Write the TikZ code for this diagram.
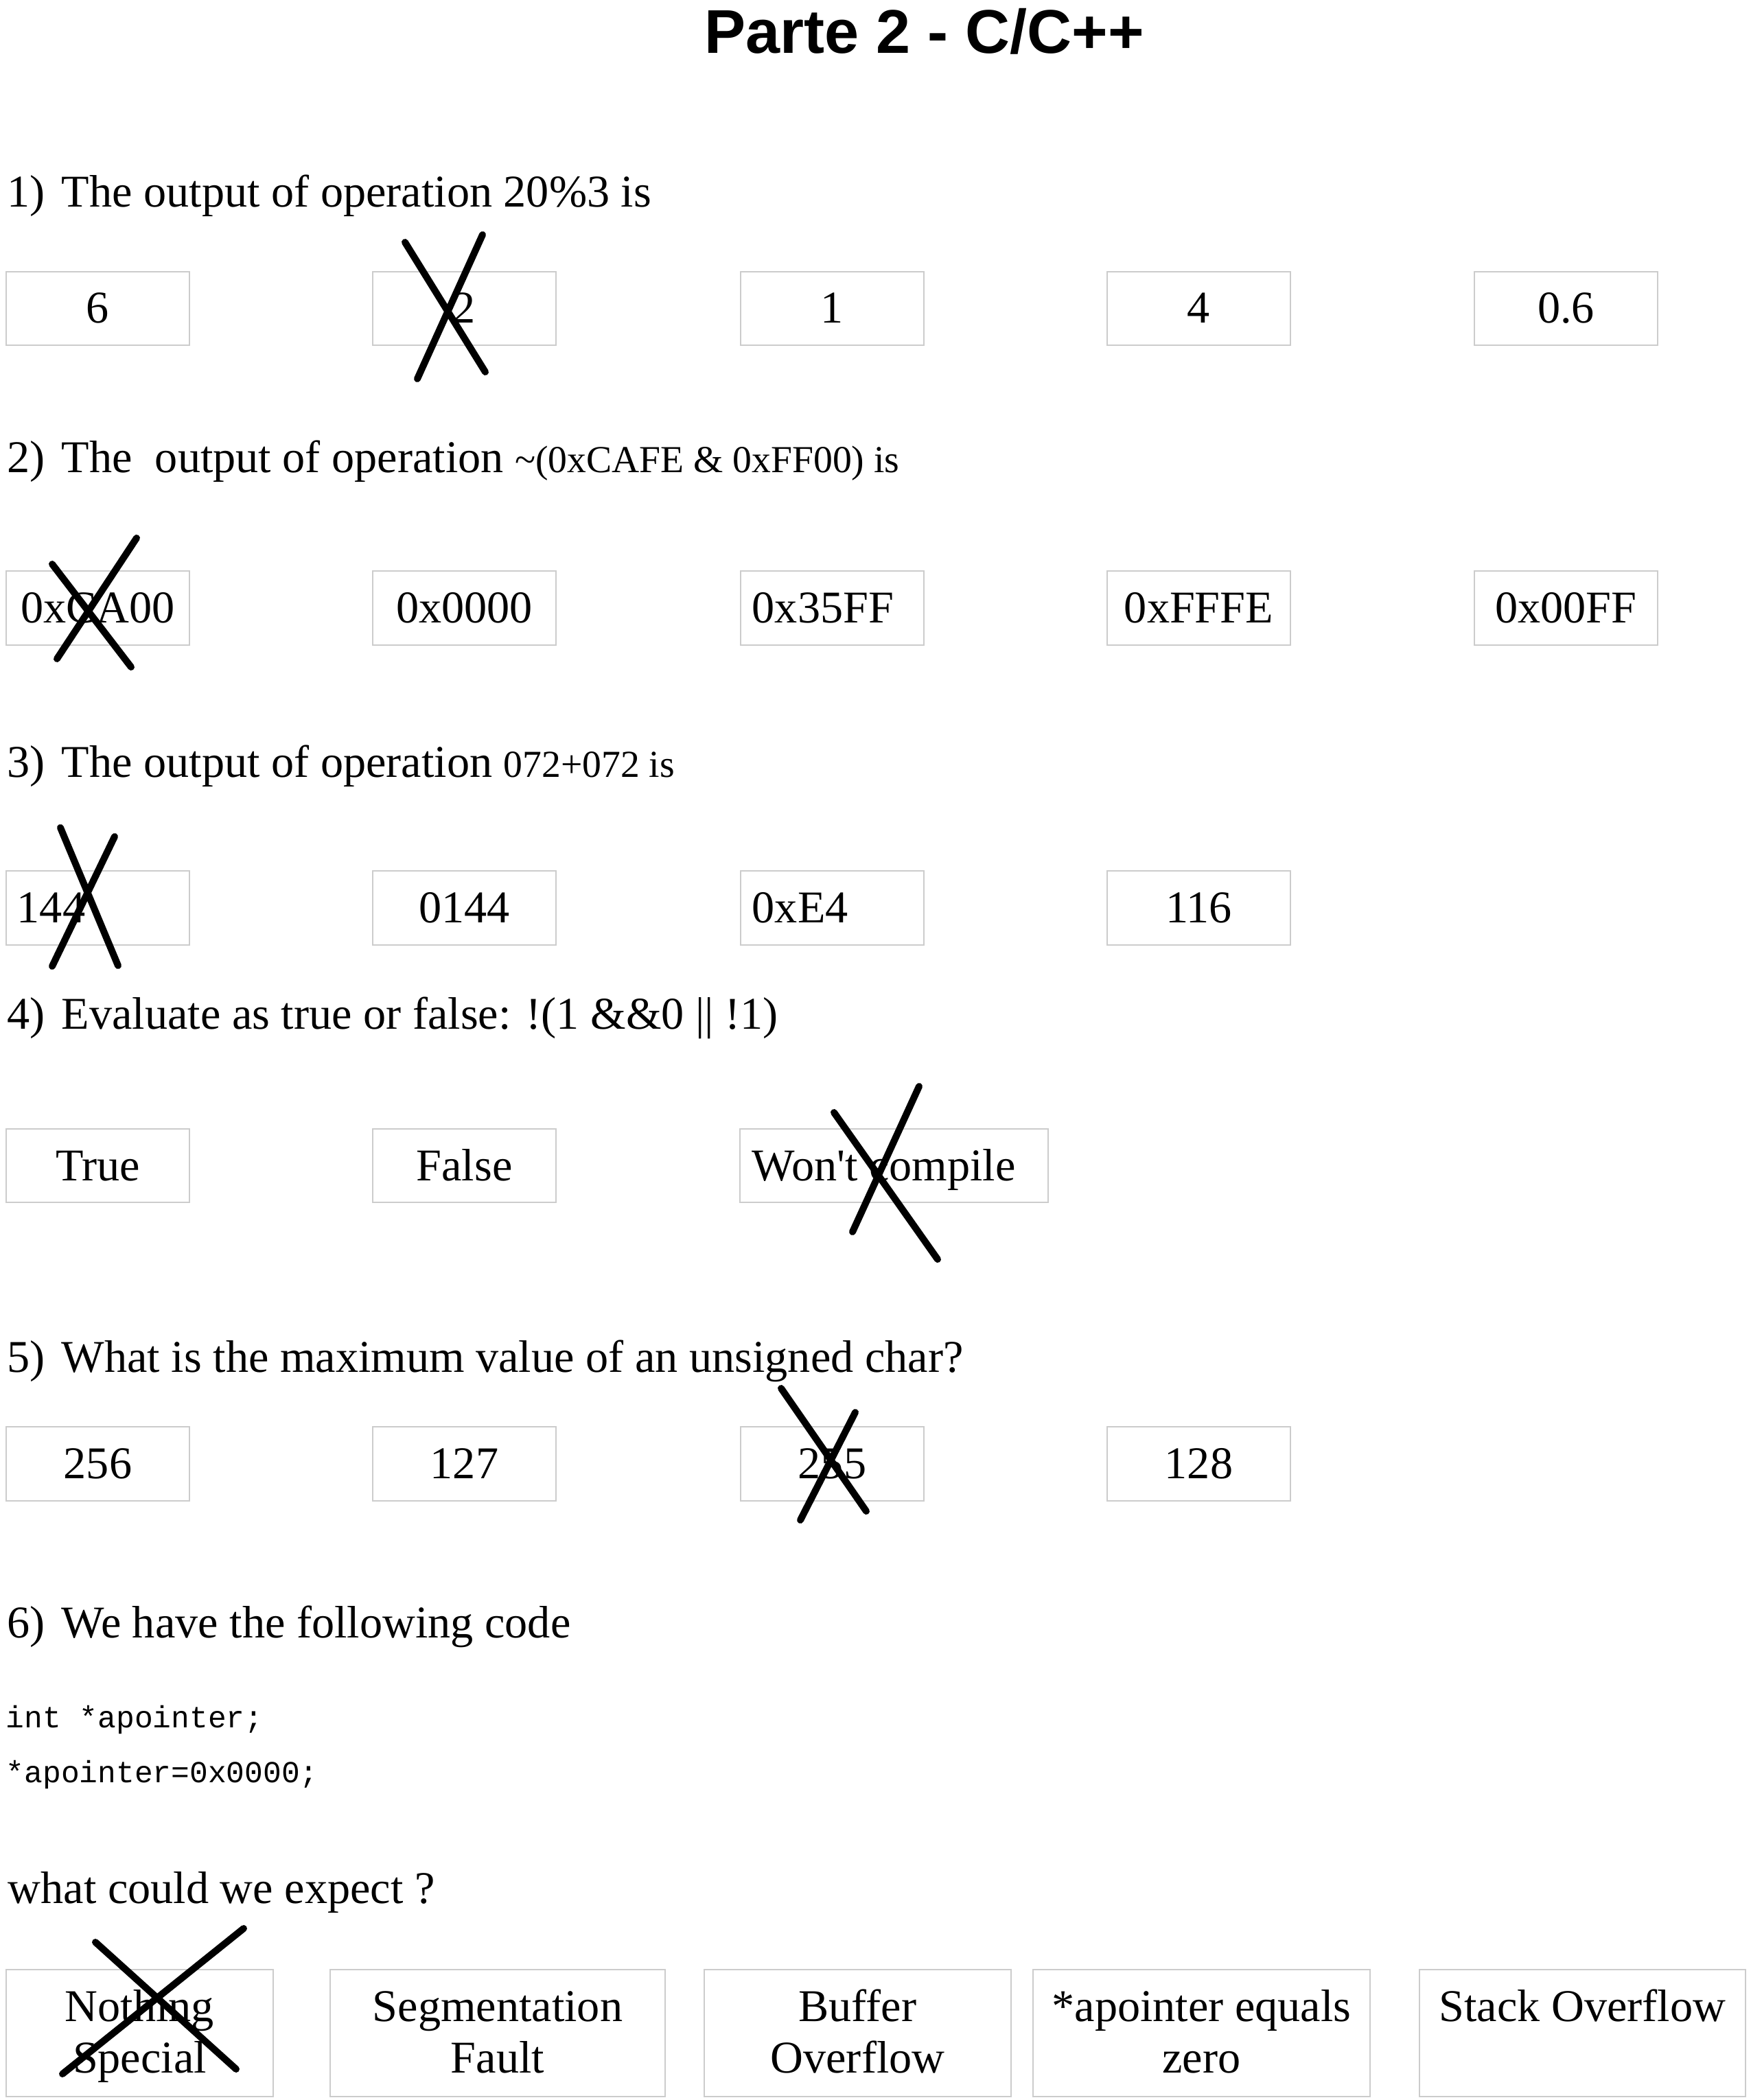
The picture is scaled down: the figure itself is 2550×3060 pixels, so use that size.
\documentclass[tikz,border=0pt]{standalone}
\usepackage{fontspec}
\setmainfont{Liberation Serif}
\newfontfamily\titlefam{Liberation Sans}
\newfontfamily\codefam{Liberation Mono}
\usetikzlibrary{fit}
\newcommand\qfont{\fontsize{15.9pt}{18pt}\selectfont}
\newcommand\qsmallfont{\fontsize{13.35pt}{16pt}\selectfont}
\newcommand\cfont{\codefam\fontsize{10.7pt}{13pt}\selectfont}
\newcommand\ttlfont{\titlefam\bfseries\fontsize{21.6pt}{25pt}\selectfont}
\begin{document}
\begin{tikzpicture}[x=0.24pt,y=-0.24pt,
  box/.style={draw=gray!40,line width=0.5pt,inner sep=0pt,fill=none},
  txt/.style={inner sep=0pt,anchor=base,font=\qfont},
  ltxt/.style={inner sep=0pt,anchor=base west,font=\qfont},
  code/.style={inner sep=0pt,anchor=base west,font=\cfont},
  cross/.style={line width=2.4pt,line cap=round,black}]
\useasboundingbox (0,0) rectangle (2550,3060);
% title
\node (title) [inner sep=0pt,anchor=base,font=\ttlfont] at (1347,78) {Parte 2 - C/C++};
% ---------- Q1
\node (q1n) [ltxt] at (10,302) {1)};
\node (q1t) [ltxt] at (89,302) {The output of operation 20\%3 is};
\node (b11) [box,fit={(9,396) (276,503)}] {};
\node (b12) [box,fit={(543,396) (810,503)}] {};
\node (b13) [box,fit={(1079,396) (1346,503)}] {};
\node (b14) [box,fit={(1613,396) (1880,503)}] {};
\node (b15) [box,fit={(2148,396) (2415,503)}] {};
\node (t11) [txt] at (142.5,471) {6};
\node (t12) [txt] at (676.5,471) {2};
\node (t13) [txt] at (1212.5,471) {1};
\node (t14) [txt] at (1746.5,471) {4};
\node (t15) [txt] at (2281.5,471) {0.6};
% ---------- Q2
\node (q2n) [ltxt] at (10,689) {2)};
\node (q2t) [ltxt] at (89,689) {The\ \ output of operation {\qsmallfont \textasciitilde(0xCAFE \& 0xFF00) is}};
\node (b21) [box,fit={(9,832) (276,940)}] {};
\node (b22) [box,fit={(543,832) (810,940)}] {};
\node (b23) [box,fit={(1079,832) (1346,940)}] {};
\node (b24) [box,fit={(1613,832) (1880,940)}] {};
\node (b25) [box,fit={(2148,832) (2415,940)}] {};
\node (t21) [txt] at (142.5,907) {0xCA00};
\node (t22) [txt] at (676.5,907) {0x0000};
\node (t23) [ltxt] at (1095,907) {0x35FF};
\node (t24) [txt] at (1746.5,907) {0xFFFE};
\node (t25) [txt] at (2281.5,907) {0x00FF};
% ---------- Q3
\node (q3n) [ltxt] at (10,1132) {3)};
\node (q3t) [ltxt] at (89,1132) {The output of operation {\qsmallfont 072+072 is}};
\node (b31) [box,fit={(9,1269) (276,1377)}] {};
\node (b32) [box,fit={(543,1269) (810,1377)}] {};
\node (b33) [box,fit={(1079,1269) (1346,1377)}] {};
\node (b34) [box,fit={(1613,1269) (1880,1377)}] {};
\node (t31) [ltxt] at (24,1344) {144};
\node (t32) [txt] at (676.5,1344) {0144};
\node (t33) [ltxt] at (1095,1344) {0xE4};
\node (t34) [txt] at (1746.5,1344) {116};
% ---------- Q4
\node (q4n) [ltxt] at (10,1499) {4)};
\node (q4t) [ltxt] at (89,1499) {Evaluate as true or false: !(1 \&\&0 \textbar\textbar{} !1)};
\node (b41) [box,fit={(9,1645) (276,1752)}] {};
\node (b42) [box,fit={(543,1645) (810,1752)}] {};
\node (b43) [box,fit={(1078,1645) (1527,1752)}] {};
\node (t41) [txt] at (142.5,1720) {True};
\node (t42) [txt] at (676.5,1720) {False};
\node (t43) [ltxt] at (1095,1720) {Won\textquotesingle t compile};
% ---------- Q5
\node (q5n) [ltxt] at (10,1999) {5)};
\node (q5t) [ltxt] at (89,1999) {What is the maximum value of an unsigned char?};
\node (b51) [box,fit={(9,2079) (276,2187)}] {};
\node (b52) [box,fit={(543,2079) (810,2187)}] {};
\node (b53) [box,fit={(1079,2079) (1346,2187)}] {};
\node (b54) [box,fit={(1613,2079) (1880,2187)}] {};
\node (t51) [txt] at (142.5,2154) {256};
\node (t52) [txt] at (676.5,2154) {127};
\node (t53) [txt] at (1212.5,2154) {255};
\node (t54) [txt] at (1746.5,2154) {128};
% ---------- Q6
\node (q6n) [ltxt] at (10,2386) {6)};
\node (q6t) [ltxt] at (89,2386) {We have the following code};
\node (c1) [code] at (8,2517) {int *apointer;};
\node (c2) [code] at (8,2597) {*apointer=0x0000;};
\node (q6w) [ltxt] at (11,2773) {what could we expect ?};
\node (b61) [box,fit={(9,2870) (398,3055)}] {};
\node (b62) [box,fit={(481,2870) (969,3055)}] {};
\node (b63) [box,fit={(1026,2870) (1473,3055)}] {};
\node (b64) [box,fit={(1505,2870) (1996,3055)}] {};
\node (b65) [box,fit={(2068,2870) (2543,3055)}] {};
\node (t61a) [txt] at (203.5,2945) {Nothing};
\node (t61b) [txt] at (203.5,3020) {Special};
\node (t62a) [txt] at (725,2945) {Segmentation};
\node (t62b) [txt] at (725,3020) {Fault};
\node (t63a) [txt] at (1249.5,2945) {Buffer};
\node (t63b) [txt] at (1249.5,3020) {Overflow};
\node (t64a) [txt] at (1750.5,2945) {*apointer equals};
\node (t64b) [txt] at (1750.5,3020) {zero};
\node (t65a) [txt] at (2305.5,2945) {Stack Overflow};
% ---------- crosses
\draw[cross] (590,353) -- (707,542) (703,342) -- (608,552);
\draw[cross] (76,822) -- (191,972) (199,784) -- (83,960);
\draw[cross] (88,1206) -- (172,1407) (167,1219) -- (76,1408);
\draw[cross] (1215,1621) -- (1366,1835) (1339,1583) -- (1242,1795);
\draw[cross] (1138,2023) -- (1262,2202) (1246,2058) -- (1166,2215);
\draw[cross] (139,2830) -- (344,3015) (355,2810) -- (91,3022);
\end{tikzpicture}
\end{document}
